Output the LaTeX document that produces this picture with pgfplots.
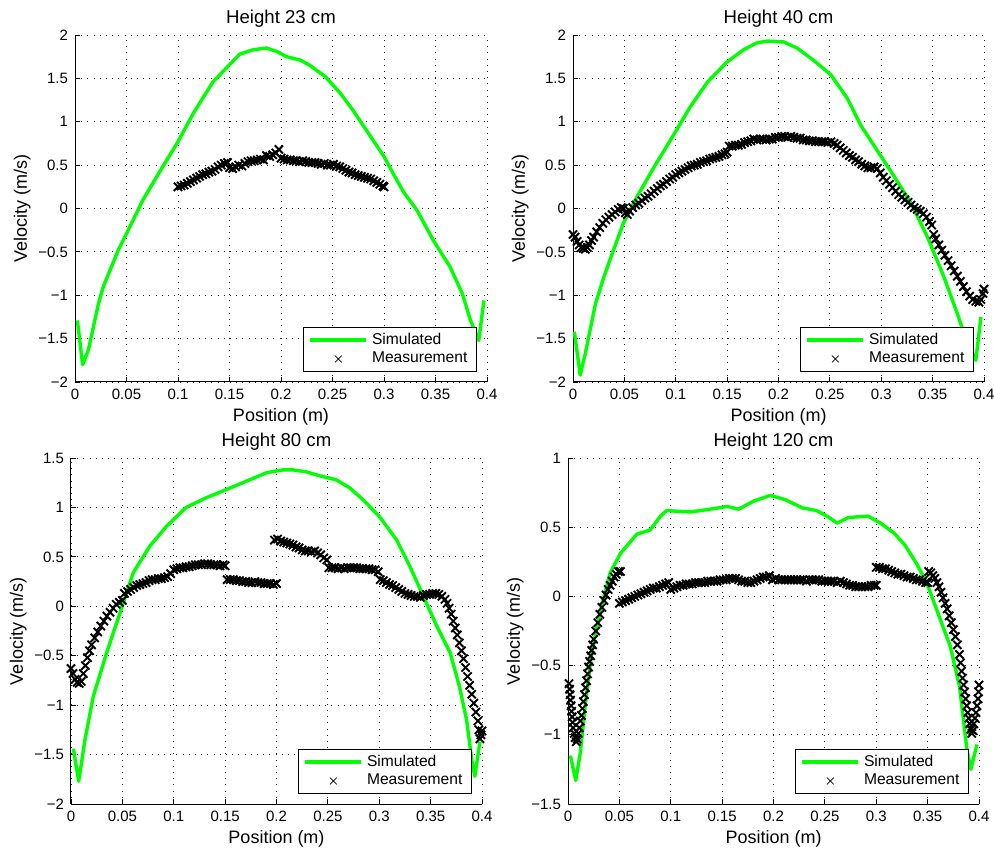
\documentclass[border=0pt]{standalone}
\usepackage{fontspec}
\setmainfont{Liberation Sans}
\usepackage{pgfplots}
\pgfplotsset{compat=1.18}

\definecolor{simgreen}{RGB}{0,255,0}

\pgfplotsset{
  panel/.style={
    scale only axis,
    width=205.5pt, height=173.5pt,
    anchor=south west,
    axis x line=bottom, axis y line=left,
    axis line style={-, line width=0.5pt},
    tick align=inside, major tick length=2.5pt,
    tick style={black, line width=0.4pt},
    xmin=0, xmax=0.4,
    xtick={0,0.05,0.1,0.15,0.2,0.25,0.3,0.35,0.4},
    xticklabels={0,0.05,0.1,0.15,0.2,0.25,0.3,0.35,0.4},
    grid=major,
    major grid style={black!85, line width=0.4pt, dash pattern=on 0.5pt off 2.6pt},
    tick label style={font=\fontsize{7.5}{8}\selectfont},
    label style={font=\fontsize{9}{10}\selectfont},
    title style={font=\fontsize{9.3}{10}\selectfont, yshift=-5.5pt},
    xlabel={Position (m)}, ylabel={Velocity (m/s)},
    xlabel style={yshift=2.5pt},
    ylabel style={yshift=-3pt},
    legend cell align=left,
    legend style={at={(1,0)}, anchor=south east, xshift=-5pt, yshift=5pt,
      font=\fontsize{7.8}{8.5}\selectfont, draw=black, line width=0.6pt,
      inner xsep=2.5pt, inner ysep=0.8pt, row sep=-1.5pt, fill=white},
  },
  sim/.style={color=simgreen, line width=1.7pt, line join=round,
    legend image code/.code={\draw[##1] (0pt,0pt) -- (28pt,0pt);}},
  meas/.style={only marks, mark=x, mark size=2.9pt, color=black,
    mark options={line width=0.95pt},
    legend image code/.code={\draw[##1,mark size=2.4pt,mark options={line width=0.35pt}] plot coordinates {(14pt,0pt)};}},
}

\begin{document}
\begin{tikzpicture}
\useasboundingbox (0,0) rectangle (497pt,-424.5pt);

% ---------------- Height 23 cm
\begin{axis}[panel, at={(37.5pt,-191pt)}, width=206pt,
  title={Height 23 cm},
  ymin=-2, ymax=2,
  ytick={-2,-1.5,-1,-0.5,0,0.5,1,1.5,2},
  yticklabels={−2,−1.5,−1,−0.5,0,0.5,1,1.5,2}]
\addplot[sim] coordinates {
(0.0023,-1.29) (0.0074,-1.80) (0.013,-1.63) (0.0227,-1.10) (0.0275,-0.90)
(0.042,-0.48) (0.050,-0.29) (0.066,0.10) (0.083,0.44) (0.099,0.75)
(0.115,1.10) (0.134,1.46) (0.147,1.62) (0.160,1.78) (0.173,1.83)
(0.186,1.85) (0.196,1.81) (0.2055,1.75) (0.219,1.71) (0.228,1.65)
(0.243,1.52) (0.2575,1.33) (0.270,1.13) (0.283,0.90) (0.300,0.60)
(0.309,0.40) (0.319,0.19) (0.332,-0.02) (0.348,-0.37) (0.364,-0.67)
(0.376,-0.98) (0.384,-1.29) (0.392,-1.52) (0.397,-1.06)};
\addplot[meas] coordinates {
(0.100,0.25) (0.103,0.26) (0.106,0.27) (0.109,0.29) (0.112,0.31) (0.115,0.33)
(0.118,0.35) (0.121,0.37) (0.124,0.39) (0.127,0.40) (0.130,0.42) (0.133,0.43)
(0.136,0.45) (0.139,0.48) (0.142,0.50) (0.145,0.52) (0.148,0.53) (0.150,0.47)
(0.153,0.46) (0.156,0.48) (0.159,0.50) (0.162,0.49) (0.165,0.52) (0.168,0.54)
(0.171,0.55) (0.174,0.55) (0.177,0.56) (0.180,0.57) (0.183,0.56) (0.186,0.61)
(0.189,0.60) (0.192,0.62) (0.195,0.64) (0.198,0.68) (0.200,0.58) (0.203,0.57)
(0.206,0.56) (0.209,0.56) (0.212,0.55) (0.215,0.55) (0.218,0.54) (0.221,0.55)
(0.224,0.54) (0.227,0.53) (0.230,0.53) (0.233,0.53) (0.236,0.52) (0.239,0.51)
(0.242,0.52) (0.245,0.50) (0.248,0.50) (0.251,0.51) (0.254,0.49) (0.257,0.48)
(0.260,0.46) (0.263,0.44) (0.266,0.42) (0.269,0.41) (0.272,0.39) (0.275,0.38)
(0.278,0.37) (0.281,0.36) (0.284,0.35) (0.287,0.34) (0.290,0.32) (0.293,0.30)
(0.296,0.28) (0.299,0.26) (0.300,0.25)};
\legend{Simulated,Measurement}
\end{axis}

% ---------------- Height 40 cm
\begin{axis}[panel, at={(286.5pt,-191pt)},
  title={Height 40 cm},
  ymin=-2, ymax=2,
  ytick={-2,-1.5,-1,-0.5,0,0.5,1,1.5,2},
  yticklabels={−2,−1.5,−1,−0.5,0,0.5,1,1.5,2}]
\addplot[sim] coordinates {
(0.0013,-1.42) (0.007,-1.92) (0.012,-1.67) (0.0218,-1.10) (0.030,-0.79)
(0.040,-0.46) (0.049,-0.17) (0.062,0.13) (0.079,0.48) (0.098,0.85)
(0.114,1.17) (0.131,1.46) (0.150,1.69) (0.166,1.83) (0.179,1.91)
(0.189,1.93) (0.205,1.92) (0.218,1.85) (0.234,1.71) (0.251,1.54)
(0.267,1.27) (0.280,0.96) (0.296,0.67) (0.312,0.38) (0.329,0.06)
(0.345,-0.33) (0.361,-0.79) (0.374,-1.21) (0.384,-1.56) (0.392,-1.75)
(0.397,-1.25)};
\addplot[meas] coordinates {
(0.000,-0.30) (0.002,-0.33) (0.004,-0.38) (0.006,-0.42) (0.008,-0.45) (0.010,-0.46)
(0.012,-0.47) (0.014,-0.45) (0.016,-0.42) (0.018,-0.37) (0.020,-0.33) (0.023,-0.27)
(0.026,-0.22) (0.029,-0.17) (0.032,-0.13) (0.035,-0.10) (0.038,-0.07) (0.041,-0.04)
(0.044,-0.01) (0.047,0.01) (0.049,0.00) (0.051,-0.05) (0.053,-0.07) (0.055,-0.03)
(0.058,0.01) (0.061,0.04) (0.064,0.06) (0.067,0.09) (0.070,0.12) (0.073,0.14)
(0.076,0.17) (0.079,0.20) (0.082,0.23) (0.085,0.26) (0.088,0.28) (0.091,0.31)
(0.094,0.34) (0.097,0.36) (0.100,0.39) (0.103,0.41) (0.106,0.43) (0.109,0.45)
(0.112,0.47) (0.115,0.49) (0.118,0.50) (0.121,0.51) (0.124,0.53) (0.127,0.54)
(0.130,0.55) (0.133,0.57) (0.136,0.58) (0.139,0.59) (0.142,0.60) (0.145,0.62)
(0.148,0.63) (0.150,0.65) (0.152,0.72) (0.155,0.72) (0.158,0.73) (0.161,0.73)
(0.164,0.74) (0.167,0.76) (0.170,0.77) (0.173,0.78) (0.176,0.80) (0.179,0.79)
(0.182,0.80) (0.185,0.80) (0.188,0.79) (0.191,0.80) (0.194,0.80) (0.197,0.82)
(0.200,0.82) (0.203,0.83) (0.206,0.83) (0.209,0.82) (0.212,0.83) (0.215,0.82)
(0.218,0.81) (0.221,0.81) (0.224,0.79) (0.227,0.79) (0.230,0.78) (0.233,0.78)
(0.236,0.77) (0.239,0.77) (0.242,0.77) (0.245,0.77) (0.248,0.76) (0.251,0.77)
(0.254,0.75) (0.257,0.73) (0.260,0.70) (0.263,0.67) (0.266,0.64) (0.269,0.61)
(0.272,0.59) (0.275,0.56) (0.278,0.54) (0.281,0.51) (0.284,0.49) (0.287,0.47)
(0.290,0.47) (0.293,0.48) (0.296,0.46) (0.299,0.41) (0.302,0.36) (0.305,0.32)
(0.308,0.28) (0.311,0.24) (0.314,0.20) (0.317,0.16) (0.320,0.13) (0.323,0.10)
(0.326,0.07) (0.329,0.04) (0.332,0.01) (0.335,-0.01) (0.338,-0.03) (0.341,-0.06)
(0.344,-0.10) (0.347,-0.15) (0.349,-0.19) (0.351,-0.30) (0.353,-0.35) (0.356,-0.42)
(0.359,-0.48) (0.362,-0.54) (0.365,-0.60) (0.368,-0.66) (0.371,-0.72) (0.374,-0.78)
(0.377,-0.84) (0.380,-0.90) (0.383,-0.96) (0.386,-1.01) (0.389,-1.05) (0.392,-1.07)
(0.395,-1.08) (0.397,-1.05) (0.399,-0.98) (0.400,-0.93)};
\legend{Simulated,Measurement}
\end{axis}

% ---------------- Height 80 cm
\begin{axis}[panel, at={(35.5pt,-402pt)}, height=173pt,
  title={Height 80 cm},
  ymin=-2, ymax=1.5,
  ytick={-2,-1.5,-1,-0.5,0,0.5,1,1.5},
  yticklabels={−2,−1.5,−1,−0.5,0,0.5,1,1.5}]
\addplot[sim] coordinates {
(0.0023,-1.44) (0.0075,-1.77) (0.0136,-1.35) (0.0217,-0.91) (0.0347,-0.47)
(0.0476,-0.07) (0.0606,0.34) (0.0768,0.61) (0.093,0.81) (0.112,1.00)
(0.132,1.10) (0.151,1.18) (0.174,1.28) (0.190,1.35) (0.206,1.38)
(0.216,1.38) (0.229,1.36) (0.242,1.32) (0.258,1.28) (0.271,1.20)
(0.284,1.08) (0.300,0.91) (0.317,0.67) (0.330,0.40) (0.343,0.10)
(0.356,-0.20) (0.369,-0.47) (0.378,-0.81) (0.385,-1.15) (0.390,-1.55)
(0.393,-1.72) (0.398,-1.37)};
\addplot[meas] coordinates {
(0.000,-0.63) (0.002,-0.68) (0.004,-0.74) (0.006,-0.77) (0.008,-0.78) (0.010,-0.76)
(0.012,-0.68) (0.014,-0.60) (0.016,-0.52) (0.018,-0.45) (0.020,-0.39) (0.023,-0.32)
(0.026,-0.26) (0.029,-0.20) (0.032,-0.15) (0.035,-0.10) (0.038,-0.06) (0.041,-0.02)
(0.044,0.02) (0.047,0.04) (0.050,0.06) (0.052,0.13) (0.055,0.15) (0.058,0.17)
(0.061,0.19) (0.064,0.21) (0.067,0.22) (0.070,0.23) (0.073,0.24) (0.076,0.26)
(0.079,0.27) (0.082,0.27) (0.085,0.28) (0.088,0.28) (0.091,0.29) (0.094,0.30)
(0.097,0.33) (0.100,0.37) (0.103,0.38) (0.106,0.39) (0.109,0.39) (0.112,0.40)
(0.115,0.40) (0.118,0.41) (0.121,0.42) (0.124,0.42) (0.127,0.42) (0.130,0.43)
(0.133,0.43) (0.136,0.42) (0.139,0.42) (0.142,0.42) (0.145,0.41) (0.148,0.42)
(0.150,0.41)
(0.152,0.27) (0.155,0.27) (0.158,0.27) (0.161,0.26) (0.164,0.26) (0.167,0.25)
(0.170,0.25) (0.173,0.24) (0.176,0.24) (0.179,0.25) (0.182,0.24) (0.185,0.24)
(0.188,0.23) (0.191,0.23) (0.194,0.23) (0.197,0.22) (0.200,0.23)
(0.198,0.67) (0.201,0.68) (0.204,0.66) (0.207,0.65) (0.210,0.64) (0.213,0.63)
(0.216,0.62) (0.219,0.60) (0.222,0.59) (0.225,0.57) (0.228,0.56) (0.231,0.56)
(0.234,0.55) (0.237,0.56) (0.240,0.54) (0.243,0.52) (0.246,0.49) (0.249,0.47)
(0.251,0.39) (0.254,0.39) (0.257,0.39) (0.260,0.38) (0.263,0.39) (0.266,0.38)
(0.269,0.39) (0.272,0.39) (0.275,0.39) (0.278,0.39) (0.281,0.38) (0.284,0.38)
(0.287,0.38) (0.290,0.38) (0.293,0.37) (0.296,0.37) (0.299,0.35)
(0.301,0.27) (0.304,0.26) (0.307,0.24) (0.310,0.22) (0.313,0.21) (0.316,0.19)
(0.319,0.17) (0.322,0.15) (0.325,0.13) (0.328,0.12) (0.331,0.11) (0.334,0.10)
(0.337,0.10) (0.340,0.09) (0.343,0.11) (0.346,0.12) (0.349,0.12) (0.352,0.13)
(0.355,0.13) (0.358,0.12) (0.361,0.10) (0.364,0.07) (0.366,0.03) (0.368,-0.02)
(0.370,-0.08) (0.372,-0.15) (0.374,-0.22) (0.376,-0.29) (0.378,-0.37) (0.380,-0.45)
(0.382,-0.53) (0.384,-0.62) (0.386,-0.71) (0.388,-0.80) (0.390,-0.89) (0.392,-0.98)
(0.394,-1.07) (0.396,-1.16) (0.397,-1.25) (0.398,-1.34) (0.399,-1.30) (0.400,-1.26)};
\legend{Simulated,Measurement}
\end{axis}

% ---------------- Height 120 cm
\begin{axis}[panel, at={(284pt,-402pt)}, height=173pt,
  title={Height 120 cm},
  ymin=-1.5, ymax=1,
  ytick={-1.5,-1,-0.5,0,0.5,1},
  yticklabels={−1.5,−1,−0.5,0,0.5,1}]
\addplot[sim] coordinates {
(0.0023,-1.15) (0.0075,-1.33) (0.012,-1.13) (0.017,-0.77) (0.023,-0.41)
(0.031,-0.12) (0.041,0.17) (0.051,0.31) (0.067,0.45) (0.080,0.48)
(0.090,0.58) (0.096,0.62) (0.119,0.61) (0.138,0.63) (0.155,0.65)
(0.166,0.63) (0.181,0.69) (0.197,0.73) (0.211,0.70) (0.228,0.64)
(0.242,0.62) (0.252,0.58) (0.262,0.53) (0.273,0.57) (0.292,0.58)
(0.304,0.53) (0.317,0.46) (0.328,0.37) (0.339,0.24) (0.349,0.10)
(0.360,-0.12) (0.372,-0.36) (0.381,-0.65) (0.388,-1.09) (0.392,-1.25)
(0.398,-1.07)};
\addplot[meas] coordinates {
(0.001,-0.63) (0.0015,-0.67) (0.002,-0.71) (0.0025,-0.75) (0.003,-0.79) (0.0035,-0.83)
(0.004,-0.87) (0.0045,-0.91) (0.005,-0.95) (0.006,-0.99) (0.007,-1.02) (0.008,-1.05)
(0.009,-1.03) (0.010,-0.99) (0.011,-0.95) (0.012,-0.90) (0.013,-0.86) (0.014,-0.81)
(0.015,-0.76) (0.016,-0.71) (0.017,-0.66) (0.018,-0.61) (0.019,-0.56) (0.020,-0.51)
(0.021,-0.47) (0.022,-0.43) (0.023,-0.39) (0.024,-0.35) (0.025,-0.31) (0.027,-0.25)
(0.029,-0.19) (0.031,-0.13) (0.033,-0.08) (0.035,-0.03) (0.037,0.01) (0.039,0.05)
(0.041,0.08) (0.043,0.11) (0.045,0.14) (0.047,0.16) (0.049,0.18) (0.051,0.18)
(0.050,-0.05) (0.053,-0.04) (0.056,-0.03) (0.059,-0.02) (0.062,-0.01) (0.065,0.00)
(0.068,0.01) (0.071,0.02) (0.074,0.03) (0.077,0.04) (0.080,0.05) (0.083,0.06)
(0.086,0.06) (0.089,0.07) (0.092,0.08) (0.095,0.09) (0.098,0.10) (0.100,0.05)
(0.103,0.06) (0.106,0.07) (0.109,0.08) (0.112,0.08) (0.115,0.09) (0.118,0.09)
(0.121,0.09) (0.124,0.10) (0.127,0.10) (0.130,0.10) (0.133,0.10) (0.136,0.11)
(0.139,0.11) (0.142,0.11) (0.145,0.11) (0.148,0.12) (0.151,0.12) (0.154,0.12)
(0.157,0.13) (0.160,0.13) (0.163,0.13) (0.166,0.12) (0.169,0.11) (0.172,0.11)
(0.175,0.10) (0.178,0.10) (0.181,0.11) (0.184,0.12) (0.187,0.13) (0.190,0.14)
(0.193,0.14) (0.196,0.15) (0.199,0.12) (0.202,0.13) (0.205,0.12) (0.208,0.12)
(0.211,0.12) (0.214,0.12) (0.217,0.12) (0.220,0.12) (0.223,0.12) (0.226,0.12)
(0.229,0.12) (0.232,0.11) (0.235,0.12) (0.238,0.12) (0.241,0.12) (0.244,0.12)
(0.247,0.11) (0.250,0.11) (0.253,0.11) (0.256,0.11) (0.259,0.11) (0.262,0.10)
(0.265,0.11) (0.268,0.10) (0.271,0.09) (0.274,0.08) (0.277,0.08) (0.280,0.07)
(0.283,0.07) (0.286,0.07) (0.289,0.07) (0.292,0.07) (0.295,0.08) (0.298,0.08)
(0.300,0.08)
(0.300,0.21) (0.303,0.21) (0.306,0.20) (0.309,0.20) (0.312,0.19) (0.315,0.18)
(0.318,0.17) (0.321,0.16) (0.324,0.16) (0.327,0.15) (0.330,0.14) (0.333,0.14)
(0.336,0.13) (0.339,0.12) (0.342,0.12) (0.345,0.11) (0.348,0.10) (0.350,0.10)
(0.351,0.18) (0.353,0.17) (0.355,0.15) (0.357,0.13) (0.359,0.10) (0.361,0.07)
(0.363,0.03) (0.365,-0.01) (0.367,-0.05) (0.369,-0.09) (0.371,-0.14) (0.373,-0.19)
(0.375,-0.24) (0.377,-0.29) (0.379,-0.35) (0.381,-0.42) (0.382,-0.48) (0.383,-0.54)
(0.384,-0.59) (0.385,-0.64) (0.386,-0.69) (0.387,-0.74) (0.388,-0.79) (0.389,-0.84)
(0.390,-0.88) (0.391,-0.92) (0.392,-0.96) (0.393,-0.99) (0.394,-0.97) (0.395,-0.92)
(0.396,-0.88) (0.397,-0.84) (0.398,-0.79) (0.399,-0.74) (0.3995,-0.69) (0.400,-0.64)};
\legend{Simulated,Measurement}
\end{axis}
\end{tikzpicture}
\end{document}
